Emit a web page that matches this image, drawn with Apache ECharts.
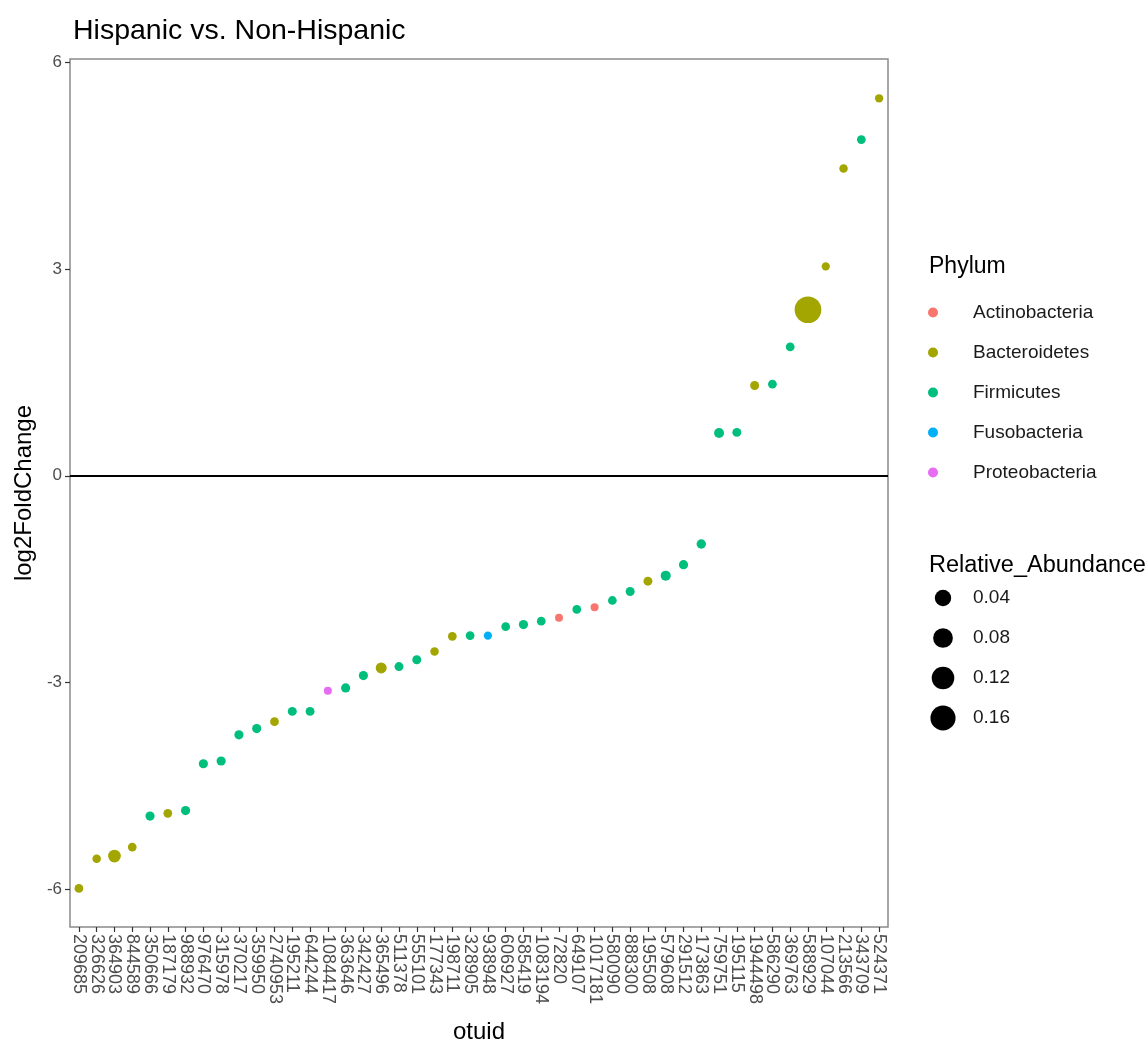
<!DOCTYPE html>
<html>
<head>
<meta charset="utf-8">
<script src="https://cdn.jsdelivr.net/npm/echarts@6/dist/echarts.min.js"></script>
<style>
  html, body { margin: 0; padding: 0; background: #fff; }
  #chart { width: 1148px; height: 1050px; }
</style>
</head>
<body>
<div id="chart"></div>
<script>
// ---- data ----
const otuids = ['209685','326626','364903','844589','350666','187179','988932','976470','315978','370217',
  '359950','2740953','195211','644244','1084417','363646','342427','365496','511378','555101',
  '177343','198711','328905','938948','606927','585419','1083194','72820','649107','1017181',
  '580090','888300','195508','579608','291512','173863','759751','195115','1944498','586290',
  '369763','588929','107044','213566','343709','524371'];
const log2FoldChange = [-5.99,-5.56,-5.52,-5.39,-4.94,-4.90,-4.86,-4.18,-4.14,-3.76,
  -3.67,-3.57,-3.42,-3.42,-3.12,-3.08,-2.90,-2.79,-2.77,-2.67,
  -2.55,-2.33,-2.32,-2.32,-2.19,-2.16,-2.11,-2.06,-1.94,-1.91,
  -1.81,-1.68,-1.53,-1.45,-1.29,-0.99,0.62,0.63,1.31,1.33,
  1.87,2.41,3.04,4.46,4.88,5.48];
const phylumOf = ['Bacteroidetes','Bacteroidetes','Bacteroidetes','Bacteroidetes','Firmicutes','Bacteroidetes','Firmicutes','Firmicutes','Firmicutes','Firmicutes',
  'Firmicutes','Bacteroidetes','Firmicutes','Firmicutes','Proteobacteria','Firmicutes','Firmicutes','Bacteroidetes','Firmicutes','Firmicutes',
  'Bacteroidetes','Bacteroidetes','Firmicutes','Fusobacteria','Firmicutes','Firmicutes','Firmicutes','Actinobacteria','Firmicutes','Actinobacteria',
  'Firmicutes','Firmicutes','Bacteroidetes','Firmicutes','Firmicutes','Firmicutes','Firmicutes','Firmicutes','Bacteroidetes','Firmicutes',
  'Firmicutes','Bacteroidetes','Bacteroidetes','Bacteroidetes','Firmicutes','Bacteroidetes'];
const relativeAbundance = [0.008,0.007,0.029,0.008,0.010,0.008,0.010,0.010,0.010,0.010,
  0.010,0.008,0.009,0.009,0.005,0.010,0.010,0.019,0.009,0.009,
  0.007,0.008,0.008,0.006,0.008,0.010,0.008,0.005,0.008,0.005,
  0.008,0.009,0.009,0.014,0.010,0.011,0.014,0.009,0.009,0.008,
  0.008,0.166,0.006,0.007,0.008,0.006];
const phyla = ['Actinobacteria','Bacteroidetes','Firmicutes','Fusobacteria','Proteobacteria'];
const phylumColors = ['#F8766D','#A3A500','#00BF7D','#00B0F6','#E76BF3'];
const sizeBreaks = [0.04, 0.08, 0.12, 0.16];
const sizeBreakLabels = ['0.04','0.08','0.12','0.16'];
const yTicks = [-6, -3, 0, 3, 6];

// ---- chart ----
const FONT = '"Liberation Sans", Arial, Helvetica, sans-serif';
function sizeOf(v) { return Math.sqrt(44 + 4030 * v); }
function legendSizeOf(v) { return Math.sqrt(150 + 3000 * v); }

const series = phyla.map((p, k) => ({
  name: p,
  type: 'scatter',
  itemStyle: { color: phylumColors[k], opacity: 1 },
  symbol: 'circle',
  symbolSize: d => sizeOf(d[2]),
  data: otuids.map((id, i) => phylumOf[i] === p ? [id, log2FoldChange[i], relativeAbundance[i]] : null)
              .filter(d => d !== null),
  markLine: k === 0 ? {
    silent: true,
    symbol: ['none', 'none'],
    label: { show: false },
    lineStyle: { color: '#000', width: 2, type: 'solid' },
    data: [{ yAxis: 0 }]
  } : undefined
}));

const legendX = 943, legendTextX = 973;
const sizeLegendY = [598, 638, 678, 718];
const graphics = [];
sizeBreaks.forEach((v, i) => {
  graphics.push({
    type: 'circle', shape: { cx: legendX, cy: sizeLegendY[i], r: legendSizeOf(v) / 2 },
    style: { fill: '#000' }
  });
  graphics.push({
    type: 'text', x: legendTextX, y: sizeLegendY[i],
    style: { text: sizeBreakLabels[i], fill: '#1a1a1a', font: '19px ' + FONT, verticalAlign: 'middle', align: 'left' }
  });
});

const chart = echarts.init(document.getElementById('chart'), null, { renderer: 'canvas' });
chart.setOption({
  backgroundColor: '#fff',
  animation: false,
  textStyle: { fontFamily: FONT },
  title: [
    { text: 'Hispanic vs. Non-Hispanic', left: 68, top: 12,
      textStyle: { fontSize: 28.5, fontWeight: 'normal', color: '#000', fontFamily: FONT } },
    { text: 'Phylum', left: 924, top: 250,
      textStyle: { fontSize: 23, fontWeight: 'normal', color: '#000', fontFamily: FONT } },
    { text: 'Relative_Abundance', left: 924, top: 549,
      textStyle: { fontSize: 23.5, fontWeight: 'normal', color: '#000', fontFamily: FONT } }
  ],
  legend: {
    orient: 'vertical', left: 923, top: 298,
    icon: 'circle', itemWidth: 40, itemHeight: 10, itemGap: 21,
    data: phyla,
    textStyle: { fontSize: 19, color: '#1a1a1a', fontFamily: FONT, padding: [0, 0, 0, 15] },
    selectedMode: false
  },
  grid: { left: 70, right: 260, top: 59, bottom: 123, show: true, borderColor: '#8a8a8a', borderWidth: 1.5, backgroundColor: '#fff' },
  xAxis: {
    type: 'category', data: otuids, boundaryGap: true,
    name: 'otuid', nameLocation: 'middle', nameGap: 93,
    nameTextStyle: { fontSize: 24, color: '#000', fontFamily: FONT },
    axisLine: { show: false, onZero: false },
    axisTick: { show: true, alignWithLabel: true, length: 5, lineStyle: { color: '#333', width: 1.2 } },
    axisLabel: { interval: 0, rotate: -90, fontSize: 18, color: '#4d4d4d', margin: 7, fontFamily: FONT },
    splitLine: { show: false }
  },
  yAxis: {
    type: 'value', min: -6.55, max: 6.05,
    name: 'log2FoldChange', nameLocation: 'middle', nameGap: 31,
    nameTextStyle: { fontSize: 24, color: '#000', fontFamily: FONT },
    axisLine: { show: false, onZero: false },
    axisTick: { show: true, customValues: yTicks, length: 5, lineStyle: { color: '#333', width: 1.2 } },
    axisLabel: { customValues: yTicks, fontSize: 17, color: '#4d4d4d', margin: 8, fontFamily: FONT },
    splitLine: { show: false }
  },
  graphic: graphics,
  series: series
});
</script>
</body>
</html>
